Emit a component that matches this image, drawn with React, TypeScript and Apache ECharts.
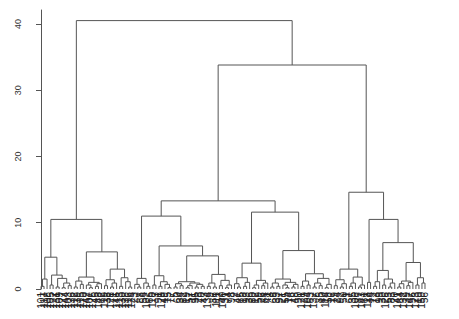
import React, { useEffect, useRef } from "react";
import * as echarts from "echarts";

// Dendrogram sub-clusters, Newick-like: (left,right)height ; leaves are observation ids
const clA1a = "((101,117)0.4,108)1.5";
const clA1b = "((105,122)0.6,((131,109)0.3,((127,144)0.2,(103,136)0.5)0.9)1.6)2.1";
const clA2a = "(((112,139)0.3,(115,120)0.7)1.2,((142,(107,125)0.2)0.6,((45,148)0.4,62)0.8)1.0)1.8";
const clA2b = "(((119,38)0.5,((128,71)0.3,146)0.9)1.4,((113,130)0.4,(138,(116,124)0.3)1.1)1.7)3.0";
const clB1a = "((23,(7,88)0.3)0.7,(54,(102,66)0.4)0.9)1.6";
const clB1bL = "((110,3)0.6,((91,129)0.4,(49,(15,77)0.2)0.7)1.1)2.0";
const clB1bRL = "(((5,60)0.3,(34,82)0.5)0.8,(((19,57)0.2,11)0.5,((95,28)0.3,(70,43)0.4)0.7)0.9)1.1";
const clB1bRR = "(((134,9)0.4,(86,111)0.3)0.9,((52,140)0.5,((31,74)0.2,98)0.6)1.3)2.2";
const clB2La = "((2,(47,65)0.3)0.8,((18,93)0.4,36)1.0)1.7";
const clB2Lb = "(((80,12)0.2,59)0.6,((26,84)0.5,41)0.9)1.3";
const clB2RL = "(((8,68)0.3,(33,97)0.4)0.9,((21,(55,14)0.2)0.6,((76,48)0.3,90)0.7)1.0)1.5";
const clB2RR = "(((121,29)0.4,(104,63)0.6)1.2,(((137,6)0.3,(85,40)0.5)0.9,((114,58)0.2,17)0.7)1.6)2.3";
const clCL = "(((79,24)0.5,((92,50)0.3,1)0.8)1.4,(((67,35)0.4,106)0.9,((87,143)0.3,61)0.6)1.8)3.0";
const clCRL = "(118,44)1.0";
const clCRRL = "(((72,13)0.4,99)1.1,((30,126)0.6,((53,83)0.3,20)0.9)1.5)2.8";
const clCRRR = "((((141,64)0.3,132)0.8,((39,147)0.5,96)1.0)1.2,((123,10)0.6,(150,56)0.9)1.7)4.0";

// Heights of the upper merges
const hA1 = 4.8, hA2 = 5.6, hA = 10.5;
const hB1bR = 5.0, hB1b = 6.5, hB1 = 11.0;
const hB2L = 3.9, hB2R = 5.8, hB2 = 11.6, hB = 13.3;
const hCRR = 7.0, hCR = 10.5, hC = 14.6;
const hRight = 33.8, hRoot = 40.5;

const yTicks = [0, 10, 20, 30, 40];

const treeA = `((${clA1a},${clA1b})${hA1},(${clA2a},${clA2b})${hA2})${hA}`;
const treeB1 = `(${clB1a},(${clB1bL},(${clB1bRL},${clB1bRR})${hB1bR})${hB1b})${hB1}`;
const treeB2 = `((${clB2La},${clB2Lb})${hB2L},(${clB2RL},${clB2RR})${hB2R})${hB2}`;
const treeC = `(${clCL},(${clCRL},(${clCRRL},${clCRRR})${hCRR})${hCR})${hC}`;
const newick = `(${treeA},((${treeB1},${treeB2})${hB},${treeC})${hRight})${hRoot}`;

type Node = { label?: string; h: number; left?: Node; right?: Node; x: number };

function parseTree(s: string): Node {
  let i = 0;
  const num = () => {
    const st = i;
    while (i < s.length && /[0-9.]/.test(s[i])) i++;
    return s.slice(st, i);
  };
  const node = (): Node => {
    if (s[i] === "(") {
      i++;
      const l = node();
      i++; // ,
      const r = node();
      i++; // )
      const h = parseFloat(num());
      return { h, left: l, right: r, x: 0 };
    }
    return { label: num(), h: 0, x: 0 };
  };
  return node();
}

function layout(root: Node) {
  const labels: string[] = [];
  const segs: { coords: number[][] }[] = [];
  const walk = (n: Node) => {
    if (!n.left || !n.right) {
      n.x = labels.length;
      labels.push(n.label as string);
      return;
    }
    walk(n.left);
    walk(n.right);
    n.x = (n.left.x + n.right.x) / 2;
    segs.push({
      coords: [
        [n.left.x, n.left.h],
        [n.left.x, n.h],
        [n.right.x, n.h],
        [n.right.x, n.right.h],
      ],
    });
  };
  walk(root);
  return { labels, segs };
}

export default function App() {
  const ref = useRef<HTMLDivElement>(null);
  useEffect(() => {
    if (!ref.current) return;
    const chart = echarts.init(ref.current, undefined, { renderer: "svg" });
    const { labels, segs } = layout(parseTree(newick));
    const n = labels.length;
    const font = "Liberation Sans, Arial, Helvetica, sans-serif";
    chart.setOption({
      animation: false,
      backgroundColor: "#ffffff",
      grid: { left: 39.5, right: 32.5, top: 10, bottom: 30, containLabel: false, outerBoundsMode: "none" },
      xAxis: [
        { type: "value", min: -0.5, max: n - 0.5, show: false },
        {
          type: "category",
          data: labels,
          position: "bottom",
          boundaryGap: true,
          axisLine: { show: false },
          axisTick: { show: false },
          splitLine: { show: false },
          axisLabel: {
            interval: 0,
            rotate: 90,
            fontSize: 10,
            margin: 3,
            color: "#222",
            fontFamily: font,
            hideOverlap: false,
          },
        },
      ],
      yAxis: {
        type: "value",
        min: 0,
        max: 42.1,
        interval: 10,
        offset: 13.5,
        splitLine: { show: false },
        axisLine: { show: true, lineStyle: { color: "#555", width: 1 } },
        axisTick: { show: true, length: 5, customValues: yTicks, lineStyle: { color: "#555" } },
        axisLabel: {
          customValues: yTicks,
          rotate: 90,
          fontSize: 9,
          margin: 4,
          color: "#333",
          fontFamily: font,
        },
      },
      series: [
        {
          type: "lines",
          coordinateSystem: "cartesian2d",
          xAxisIndex: 0,
          yAxisIndex: 0,
          polyline: true,
          silent: true,
          lineStyle: { color: "#555", width: 1, opacity: 1 },
          data: segs,
        },
      ],
    });
    return () => chart.dispose();
  }, []);
  return (
    <div
      ref={ref}
      style={{ position: "fixed", left: 0, top: 0, width: 459, height: 319 }}
    />
  );
}
